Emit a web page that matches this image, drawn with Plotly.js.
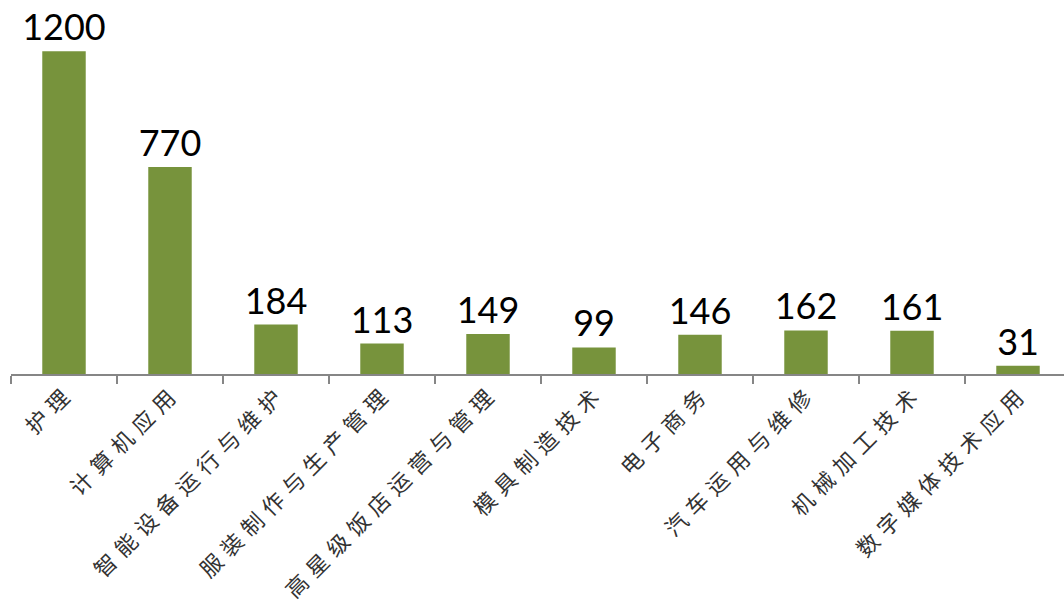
<!DOCTYPE html>
<html>
<head>
<meta charset="utf-8">
<script src="https://cdn.plot.ly/plotly-3.0.1.min.js"></script>
<style>
html,body{margin:0;padding:0;background:#fff;}
#chart{width:1064px;height:604px;}
#chart .xtick text{letter-spacing:7px;}
</style>
</head>
<body>
<div id="chart"></div>
<script>
const categories = ["护理", "计算机应用", "智能设备运行与维护", "服装制作与生产管理", "高星级饭店运营与管理", "模具制造技术", "电子商务", "汽车运用与维修", "机械加工技术", "数字媒体技术应用"];
const values = [1200, 770, 184, 113, 149, 99, 146, 162, 161, 31];

const trace = {
  type: "bar",
  x: categories,
  y: values,
  text: values.map(String),
  textposition: "outside",
  constraintext: "none",
  cliponaxis: false,
  textfont: {family: "Lato, 'Open Sans', sans-serif", size: 36, color: "#000"},
  marker: {color: "#77933C"},
  width: 0.41,
  hoverinfo: "none"
};

const layout = {
  width: 1064,
  height: 604,
  margin: {l: 11, r: 0, t: 0, b: 230, pad: 0},
  paper_bgcolor: "#fff",
  plot_bgcolor: "#fff",
  showlegend: false,
  xaxis: {
    type: "category",
    range: [-0.5, 9.434],
    showline: true,
    linecolor: "#868686",
    linewidth: 1.5,
    ticks: "outside",
    tickson: "boundaries",
    ticklen: 8,
    tickcolor: "#868686",
    tickwidth: 1.5,
    tickangle: -45,
    tickfont: {family: "'Noto Sans CJK SC', sans-serif", size: 22, color: "#333"},
    showgrid: false,
    zeroline: false,
    fixedrange: true
  },
  yaxis: {
    range: [0, 1391],
    visible: false,
    showgrid: false,
    zeroline: false,
    fixedrange: true
  }
};

Plotly.newPlot("chart", [trace], layout, {displayModeBar: false, staticPlot: true}).then(function () {
  document.querySelectorAll("#chart .xtick text").forEach(function (t) {
    t.setAttribute("dx", "6");
  });
});
</script>
</body>
</html>
